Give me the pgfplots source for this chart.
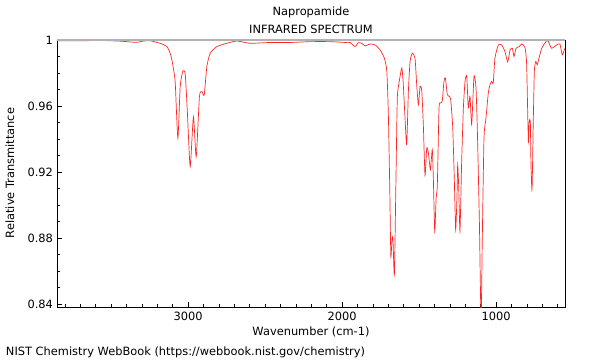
\documentclass[border=0pt]{standalone}
\usepackage{pgfplots}
\pgfplotsset{compat=1.18}
\usepackage{fontspec}
\setmainfont{DejaVu Sans}
\begin{document}
\fontsize{11.4bp}{13.5bp}\selectfont
\begin{tikzpicture}
\path[use as bounding box] (-57bp,-53bp) rectangle (543bp,307bp);
\begin{axis}[
  at={(0,0)}, anchor=south west,
  scale only axis, width=508bp, height=267bp,
  x dir=reverse,
  xmin=553, xmax=3852, ymin=0.8382, ymax=1.0,
  xtick={1000,2000,3000},
  minor xtick={600,700,...,3800},
  ytick={0.84,0.88,0.92,0.96,1},
  minor ytick={0.85,0.86,0.87,0.89,0.90,0.91,0.93,0.94,0.95,0.97,0.98,0.99},
  tick align=inside, tick pos=left,
  major tick length=5bp, minor tick length=3bp,
  tick style={black, line width=0.6bp},
  /pgf/number format/assume math mode=true,
  /pgf/number format/1000 sep={},
  xticklabel style={font=\fontsize{11.4bp}{13.5bp}\selectfont, yshift=-1bp},
  yticklabel style={font=\fontsize{11.4bp}{13.5bp}\selectfont, /pgf/number format/fixed},
  axis line style={black, line width=0.8bp},
  clip=true,
]
\addplot[red!85!white, line width=0.7bp, smooth, tension=0.35] coordinates {
(3852,0.9995) (3701,0.9995) (3571,0.9997) (3441,0.9993) (3376,0.9988) (3331,0.9986)
(3290,0.9994) (3247,0.9995) (3182,0.998) (3138,0.996) (3117,0.992) (3106,0.988)
(3095,0.982) (3084,0.974) (3067,0.9404) (3052,0.9717) (3034,0.9814) (3019,0.979)
(3005,0.9557) (2987,0.9232) (2966,0.9535) (2948,0.9293) (2927,0.9657) (2911,0.9687)
(2896,0.9667) (2879,0.9838) (2857,0.992) (2814,0.996) (2749,0.998) (2684,0.9994)
(2598,0.998) (2468,0.9985) (2338,0.9985) (2208,0.999) (2078,0.999) (1981,0.9985)
(1949,0.9985) (1916,0.996) (1895,0.9984) (1873,0.998) (1851,0.9964) (1819,0.9976)
(1786,0.997) (1754,0.994) (1726,0.989) (1710,0.981) (1700,0.9547) (1691,0.910)
(1684,0.869) (1676,0.880) (1670,0.879) (1661,0.8578) (1650,0.9204) (1642,0.9648)
(1631,0.974) (1613,0.983) (1603,0.973) (1592,0.9527) (1581,0.9366) (1570,0.9689)
(1559,0.987) (1544,0.992) (1527,0.989) (1516,0.973) (1505,0.9608) (1494,0.972)
(1483,0.969) (1473,0.9487) (1462,0.918) (1451,0.9345) (1440,0.9315) (1427,0.9214)
(1415,0.9335) (1408,0.9164) (1399,0.884) (1390,0.904) (1382,0.9123) (1371,0.9588)
(1360,0.9618) (1350,0.963) (1339,0.975) (1330,0.977) (1317,0.9669) (1304,0.9659)
(1295,0.9638) (1282,0.9467) (1272,0.9164) (1263,0.885) (1254,0.9063) (1250,0.9244)
(1243,0.9103) (1235,0.884) (1224,0.9265) (1213,0.9588) (1202,0.975) (1191,0.978)
(1181,0.9588) (1170,0.9659) (1159,0.9487) (1144,0.978) (1131,0.971) (1122,0.9447)
(1109,0.890) (1098,0.830) (1090,0.880) (1079,0.9406) (1066,0.9527) (1051,0.968)
(1040,0.9729) (1029,0.975) (1019,0.974) (1008,0.989) (986,0.997) (964,0.997)
(943,0.993) (925,0.9867) (910,0.994) (895,0.995) (884,0.990) (871,0.995)
(850,0.996) (834,0.9976) (813,0.9955) (802,0.985) (791,0.9388) (785,0.951)
(778,0.950) (774,0.9244) (767,0.9093) (759,0.9507) (752,0.981) (743,0.987)
(733,0.985) (722,0.989) (704,0.995) (672,0.9996) (661,0.999) (640,0.995)
(607,0.997) (586,0.9976) (571,0.991) (558,0.994) (553,0.995)
};
\draw[gray!60, line width=1.3bp] (rel axis cs:0,1) -- (rel axis cs:1,1);
\draw[black!70, line width=1bp] (rel axis cs:1,0) -- (rel axis cs:1,1);
\end{axis}
\node at (254bp,295bp) {Napropamide};
\node at (254bp,277.5bp) {INFRARED SPECTRUM};
\node at (254bp,-25bp) {Wavenumber (cm-1)};
\node[rotate=90] at (-47bp,134bp) {Relative Transmittance};
\node[anchor=west] at (-55bp,-45bp) {NIST Chemistry WebBook (https://webbook.nist.gov/chemistry)};
\end{tikzpicture}
\end{document}
